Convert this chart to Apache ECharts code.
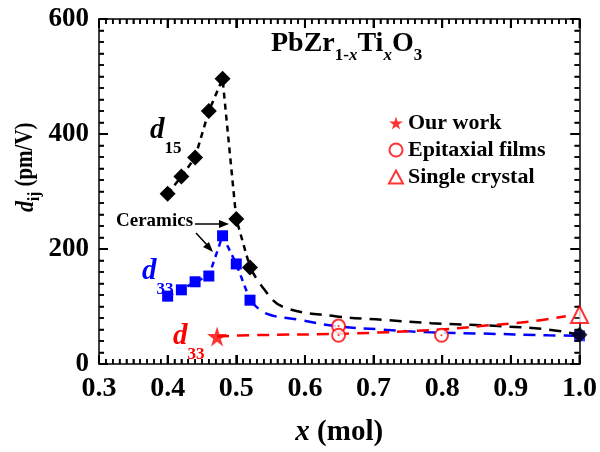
<!DOCTYPE html>
<html>
<head>
<meta charset="utf-8">
<script src="https://cdn.jsdelivr.net/npm/echarts@6/dist/echarts.min.js"></script>
<style>
  html, body { margin: 0; padding: 0; background: #fff; }
  #chart { width: 600px; height: 452px; }
</style>
</head>
<body>
<div id="chart"></div>
<script>
// x (mol) of the ceramic samples
var ceramicX = [0.40, 0.42, 0.44, 0.46, 0.48, 0.50, 0.52]
// d15 of ceramics (black diamonds)
var d15Ceramic = [296, 326, 359, 440, 496, 252, 168]
// d33 of ceramics (blue squares)
var d33Ceramic = [118, 129, 143, 153, 223, 174, 111]
// points at x = 1.0
var d15End = [[1.0, 51]]
var d33End = [[1.0, 49]]
// guide lines (long dashes)
var d15TrendX = [0.52, 0.538, 0.567, 0.644, 0.712, 0.784, 0.881, 0.954, 1.0]
var d15TrendY = [168, 134, 100, 83, 77, 71, 66, 60, 51]
var d33TrendX = [0.52, 0.543, 0.591, 0.644, 0.712, 0.784, 0.856, 0.954, 1.0]
var d33TrendY = [111, 88, 77, 66, 60, 55, 53, 50, 49]
var redTrendX = [0.472, 0.519, 0.664, 0.799, 0.856, 0.929, 0.98]
var redTrendY = [48, 50, 53, 60, 66, 74, 83]
// red d33 data
var ourWork = [[0.472, 48]]
var epitaxial = [[0.649, 66], [0.649, 50], [0.799, 50]]
var singleCrystal = [[1.0, 86]]
// axis ticks
var xTicks = [0.3, 0.4, 0.5, 0.6, 0.7, 0.8, 0.9, 1.0]
var yTicks = [0, 200, 400, 600]

var FONT = '"Liberation Serif", "Times New Roman", serif'
var STAR = 'path://M50,0 L61,35 L98,35 L68,57 L79,91 L50,70 L21,91 L32,57 L2,35 L39,35 Z'

function pairs (xs, ys) {
  var out = []
  for (var i = 0; i < xs.length; i++) out.push([xs[i], ys[i]])
  return out
}

var xRange = { type: 'value', min: xTicks[0], max: xTicks[xTicks.length - 1], interval: 0.1, splitLine: { show: false } }
var yRange = { type: 'value', min: yTicks[0], max: yTicks[yTicks.length - 1], interval: 200, splitLine: { show: false } }

// frame axis: line, inside ticks (and maybe labels)
function frameAxis (range, extra) {
  return Object.assign({}, range, {
    axisLine: { show: true, onZero: false, lineStyle: { color: '#000', width: 1.5 } },
    axisTick: { show: true, inside: true, length: 9, lineStyle: { color: '#000', width: 2 } },
    minorTick: { show: true, splitNumber: 10, length: 5, lineStyle: { color: '#000', width: 1.5 } },
    axisLabel: { show: false }
  }, extra)
}

// d with a subscript, as rich text
function dLabel (sub, color) {
  return {
    text: '{d|d}{s|' + sub + '}',
    rich: {
      d: { fontFamily: FONT, fontWeight: 'bold', fontStyle: 'italic', fontSize: 29, lineHeight: 54, verticalAlign: 'middle', fill: color },
      s: { fontFamily: FONT, fontWeight: 'bold', fontSize: 17, lineHeight: 4, verticalAlign: 'bottom', fill: color }
    }
  }
}

var labels = [
  // formula
  {
    type: 'text', left: 271, top: 30,
    style: {
      text: '{m|PbZr}{s|1-}{si|x}{m|Ti}{si|x}{m|O}{s|3}',
      rich: {
        m: { fontFamily: FONT, fontWeight: 'bold', fontSize: 28, lineHeight: 40, verticalAlign: 'middle' },
        s: { fontFamily: FONT, fontWeight: 'bold', fontSize: 17, lineHeight: 14, verticalAlign: 'bottom' },
        si: { fontFamily: FONT, fontWeight: 'bold', fontStyle: 'italic', fontSize: 17, lineHeight: 14, verticalAlign: 'bottom' }
      }
    }
  },
  { type: 'text', left: 150, top: 116, style: dLabel('15', '#000') },
  { type: 'text', left: 142, top: 257, style: dLabel('33', '#0000ff') },
  { type: 'text', left: 173, top: 322, style: dLabel('33', '#ff0000') },
  // Ceramics annotation
  {
    type: 'text', left: 116, top: 212,
    style: { text: 'Ceramics', fontFamily: FONT, fontWeight: 'bold', fontSize: 19, fill: '#000' }
  },
  {
    type: 'line', shape: { x1: 195, y1: 224, x2: 222, y2: 224 },
    style: { stroke: '#000', lineWidth: 1.5 }
  },
  {
    type: 'polygon', shape: { points: [[229, 224], [219, 220], [219, 228]] },
    style: { fill: '#000' }
  },
  {
    type: 'line', shape: { x1: 196, y1: 233, x2: 208, y2: 246 },
    style: { stroke: '#000', lineWidth: 1.5 }
  },
  {
    type: 'polygon', shape: { points: [[213, 252], [203, 247], [209, 242]] },
    style: { fill: '#000' }
  },
  // y axis name
  {
    type: 'text', x: 9, y: 212, rotation: Math.PI / 2, scaleY: 1.15,
    style: {
      text: '{d|d}{s|ij}{m| (pm/V)}',
      rich: {
        d: { fontFamily: FONT, fontWeight: 'bold', fontStyle: 'italic', fontSize: 22, lineHeight: 30, verticalAlign: 'middle', fill: '#000' },
        s: { fontFamily: FONT, fontWeight: 'bold', fontSize: 15, lineHeight: 8, verticalAlign: 'bottom', fill: '#000' },
        m: { fontFamily: FONT, fontWeight: 'bold', fontSize: 21, lineHeight: 30, verticalAlign: 'middle', fill: '#000' }
      }
    }
  }
]

var chart = echarts.init(document.getElementById('chart'))

var option = {
  animation: false,
  grid: { left: 99, right: 18, top: 19, bottom: 80, containLabel: false },
  xAxis: [
    frameAxis(xRange, {
      position: 'bottom',
      axisLabel: {
        show: true, margin: 11, color: '#000', fontFamily: FONT, fontWeight: 'bold', fontSize: 28,
        formatter: function (v) { return v.toFixed(1) }
      },
      name: '{i|x} (mol)',
      nameLocation: 'middle',
      nameGap: 54,
      nameTextStyle: {
        color: '#000', fontFamily: FONT, fontWeight: 'bold', fontSize: 29,
        rich: { i: { fontFamily: FONT, fontWeight: 'bold', fontStyle: 'italic', fontSize: 29 } }
      }
    }),
    frameAxis(xRange, { position: 'top' })
  ],
  yAxis: [
    frameAxis(yRange, {
      position: 'left',
      axisLabel: { show: true, margin: 10, color: '#000', fontFamily: FONT, fontWeight: 'bold', fontSize: 27 }
    }),
    frameAxis(yRange, { position: 'right' })
  ],
  legend: {
    orient: 'vertical',
    left: 383,
    top: 107,
    itemWidth: 14,
    itemHeight: 13,
    itemGap: 5,
    textStyle: { color: '#000', fontFamily: FONT, fontWeight: 'bold', fontSize: 22 },
    data: [
      { name: 'Our work', icon: STAR },
      { name: 'Epitaxial films', icon: 'emptyCircle' },
      { name: 'Single crystal', icon: 'emptyTriangle' }
    ]
  },
  series: [
    // long dash guide lines
    {
      type: 'line', data: pairs(d15TrendX, d15TrendY), smooth: 0.4, symbol: 'none',
      lineStyle: { color: '#000', width: 2.5, type: [12, 8] }, z: 1
    },
    {
      type: 'line', data: pairs(d33TrendX, d33TrendY), smooth: 0.4, symbol: 'none',
      lineStyle: { color: '#0000ff', width: 2.5, type: [12, 8] }, z: 1
    },
    {
      type: 'line', data: pairs(redTrendX, redTrendY), smooth: 0.4, symbol: 'none',
      lineStyle: { color: '#ff0000', width: 2.5, type: [12, 8] }, z: 1
    },
    // ceramics
    {
      type: 'line', data: pairs(ceramicX, d33Ceramic), symbol: 'rect', symbolSize: 11,
      itemStyle: { color: '#0000ff' },
      lineStyle: { color: '#0000ff', width: 2.5, type: [6, 5] }, z: 2
    },
    {
      type: 'scatter', data: d33End, symbol: 'rect', symbolSize: 11,
      itemStyle: { color: '#0000ff' }, z: 2
    },
    {
      type: 'line', data: pairs(ceramicX, d15Ceramic), symbol: 'diamond', symbolSize: 16,
      itemStyle: { color: '#000' },
      lineStyle: { color: '#000', width: 2.5, type: [6, 5] }, z: 3
    },
    {
      type: 'scatter', data: d15End, symbol: 'diamond', symbolSize: 16,
      itemStyle: { color: '#000' }, z: 3
    },
    // red d33
    {
      name: 'Our work', type: 'scatter', data: ourWork, symbol: STAR, symbolSize: 20,
      itemStyle: { color: '#ff0000' }, z: 4
    },
    {
      name: 'Epitaxial films', type: 'scatter', data: epitaxial, symbol: 'emptyCircle', symbolSize: 13,
      itemStyle: { color: '#ff0000', borderWidth: 1.2 }, z: 4
    },
    {
      type: 'scatter', data: epitaxial, symbol: 'circle', symbolSize: 2,
      itemStyle: { color: '#ff0000' }, z: 5, silent: true
    },
    {
      name: 'Single crystal', type: 'scatter', data: singleCrystal, symbol: 'emptyTriangle', symbolSize: 17,
      itemStyle: { color: '#ff0000', borderWidth: 1.2 }, z: 4
    }
  ],
  graphic: labels
}

chart.setOption(option)

// inside ticks also drawn as graphics through the axis scales
// (major every 0.1 / 200, minor every 0.01 / 20)
function tickLine (x1, y1, x2, y2, major) {
  return {
    type: 'line', silent: true, z: 10,
    shape: { x1: x1, y1: y1, x2: x2, y2: y2 },
    style: { stroke: '#000', lineWidth: major ? 2 : 1.5 }
  }
}
var ticks = []
var yBottom = chart.convertToPixel({ yAxisIndex: 0 }, yTicks[0])
var yTop = chart.convertToPixel({ yAxisIndex: 0 }, yTicks[yTicks.length - 1])
var xLeft = chart.convertToPixel({ xAxisIndex: 0 }, xTicks[0])
var xRight = chart.convertToPixel({ xAxisIndex: 0 }, xTicks[xTicks.length - 1])
for (var i = Math.round(xTicks[0] * 100); i <= Math.round(xTicks[xTicks.length - 1] * 100); i++) {
  var px = chart.convertToPixel({ xAxisIndex: 0 }, i / 100)
  var major = i % 10 === 0
  var len = major ? 9 : 5
  ticks.push(tickLine(px, yBottom, px, yBottom - len, major))
  ticks.push(tickLine(px, yTop, px, yTop + len, major))
}
for (var v = yTicks[0]; v <= yTicks[yTicks.length - 1]; v += 20) {
  var py = chart.convertToPixel({ yAxisIndex: 0 }, v)
  var majorY = v % 200 === 0
  var lenY = majorY ? 9 : 5
  ticks.push(tickLine(xLeft, py, xLeft + lenY, py, majorY))
  ticks.push(tickLine(xRight, py, xRight - lenY, py, majorY))
}
chart.setOption({ graphic: labels.concat(ticks) })
</script>
</body>
</html>
